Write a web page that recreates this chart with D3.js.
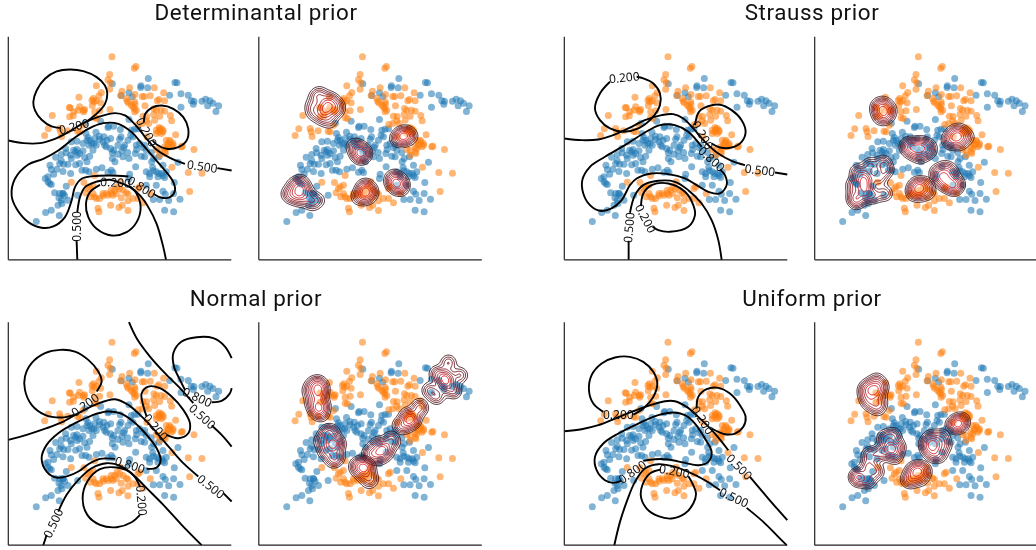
<!DOCTYPE html>
<html><head><meta charset="utf-8">
<script src="https://cdn.jsdelivr.net/npm/d3@7"></script>
<style>html,body{margin:0;padding:0;background:#fff}svg{display:block;filter:blur(0.35px)}</style></head>
<body><svg id="c" width="1036" height="550"></svg>
<script>
const titles = ["Determinantal prior","Strauss prior","Normal prior","Uniform prior"];

const bluePoints = [[446,145],[526,157],[532,158],[424,167],[423,172],[444,173],[338,161],[365,196],[388,188],[398,200],[510,195],[544,191],[566,195],[575,212],[583,213],[581,222],[607,213],[618,207],[631,212],[624,227],[640,219],[657,227],[649,244],[544,231],
[388,268],[303,273],[327,288],[342,288],[362,298],[256,279],[259,310],[289,306],[299,318],[325,292],[395,300],[405,297],[415,296],[393,315],[400,320],[385,330],[364,320],[360,327],[333,325],[322,330],[313,320],[300,328],[285,325],[265,322],[270,330],[276,340],[290,345],[268,345],[283,340],[232,333],[215,335],
[375,345],[372,352],[367,362],[355,372],[342,360],[338,368],[333,355],[320,350],[315,345],[338,385],[346,395],[384,367],[370,380],[388,385],[411,358],[430,352],[420,340],[435,345],[407,370],[425,378],[435,380],[455,367],[462,385],[478,380],[456,395],[490,405],[535,396],[459,412],[461,422],
[232,358],[222,360],[228,365],[198,355],[200,368],[185,373],[168,381],[185,392],[213,375],[233,375],[250,362],[255,382],[270,378],[280,360],[262,395],[240,400],[228,404],[205,402],[192,402],[151,405],[155,418],[172,417],[162,432],[190,424],[213,430],[247,420],[258,420],[268,425],[290,417],[307,413],[325,426],[335,420],[340,427],
[390,432],[388,445],[408,410],[440,425],[450,430],[470,425],[478,430],[487,430],[500,425],[495,442],[475,440],[490,437],[450,440],[440,465],[524,457],[470,465],[137,445],[145,455],[155,463],[150,460],[200,468],
[165,488],[180,490],[190,490],[195,497],[178,503],[185,510],[175,525],[187,520],[234,495],[205,510],[155,540],[138,547],[179,556],[110,574],[461,508],[480,508],[490,483],[497,492],[522,490],[507,511],[541,507],[495,540],[522,545],
[262,330],[310,335],[355,345],[410,345],[440,360],[250,340],[240,370],[215,385],[180,400],[145,440],[190,490]];

const orangePoints = [[337,80],[404,114],[409,109],[330,133],[325,149],[332,158],[330,177],[290,167],[305,187],[298,197],[281,205],[277,210],[283,215],[278,226],[290,212],[303,218],[238,201],[240,230],[212,233],[209,232],[222,245],[235,240],[251,240],[255,238],[252,245],[285,245],[300,242],[331,238],[158,256],[210,260],[221,257],[285,263],[292,265],[146,296],[135,316],[180,295],[183,305],[186,319],[204,302],[234,303],[240,305],[250,285],
[367,183],[363,196],[390,173],[406,193],[428,199],[434,199],[452,197],[464,173],[492,188],[478,208],[473,212],[495,212],[383,213],[386,218],[406,222],[436,227],[404,235],[405,245],[463,235],[470,240],[484,240],[495,243],[512,256],[516,272],[430,258],[441,259],[416,283],[428,280],[440,272],[462,253],[465,270],[480,258],[447,280],[480,298],[490,305],[510,330],[528,314],[505,340],[520,345],[515,350],[548,348],[545,350],[583,358],[495,365],[497,370],[480,375],[470,358],[480,360],[517,411],[566,427],[607,429],[570,484],[442,320],[470,300],[485,295],[500,355],
[215,456],[285,436],[253,457],[258,488],[270,470],[280,465],[265,475],[280,490],[290,505],[300,505],[310,497],[325,495],[335,490],[345,480],[352,470],[362,455],[380,488],[385,492],[365,503],[385,512],[400,505],[415,505],[420,470],[415,475],[430,518],[452,490],[295,534],[298,545],[333,525],[358,532],[368,525],[385,541],[340,495],
[470,310],[478,305],[485,310],[490,300],[478,292],[505,345],[512,335],[520,340],[500,330],[495,350],[335,480],[350,490],[360,475],[370,480],[320,490],[310,490],[272,500],[285,500],[405,215],[400,230],[410,240],[395,225],[380,205]];

// Decision boundaries, read per panel (gaps are where the inline labels sit)
const boundaryDeterminantal = [
 [[183,383],[155,378],[125,358],[105,330],[100,305],[110,270],[135,235],[170,213],[210,207],[250,212],[290,230],[315,255],[322,280],[315,310],[295,335],[262,362]],
 [[432,365],[436,340],[455,322],[485,315],[520,325],[550,350],[565,385],[560,420],[535,440],[500,445],[470,432],[458,420]],
 [[25,420],[70,428],[120,428],[165,415],[205,395],[250,368],[300,348],[345,338],[375,345],[405,372],[440,415],[470,448],[510,472],[555,490]],
 [[652,503],[695,510]],
 [[385,528],[330,525],[280,527],[245,535],[225,560],[215,600],[195,650],[160,678],[125,682],[85,665],[50,625],[35,585],[45,535],[85,492],[130,475],[175,450],[220,415],[265,385],[310,368],[355,370],[395,395],[430,435],[465,475],[495,510],[520,545],[525,570],[510,590],[485,592],[460,580]],
 [[232,778],[230,722]],
 [[232,636],[240,590],[255,560],[285,545],[305,540],[330,538],[355,545],[390,560],[420,585],[445,620],[470,670],[490,740],[498,778]],
 [[390,557],[410,580],[422,620],[410,665],[380,695],[335,705],[290,685],[265,650],[258,610],[270,575],[300,553]]
];
const boundaryNormal = [
 [[695,220],[675,185],[640,160],[590,157],[545,170],[520,205],[522,245],[540,285],[555,315]],
 [[635,352],[665,348],[690,325],[695,310]],
 [[387,112],[410,160],[450,215],[495,265],[540,310],[580,355]],
 [[635,422],[665,450],[695,485]],
 [[222,390],[185,398],[135,390],[95,360],[75,315],[75,275],[95,235],[135,205],[180,195],[225,200],[265,225],[295,260],[305,290],[290,320]],
 [[440,395],[428,355],[425,325],[445,305],[480,310],[515,335],[550,375],[570,415],[565,445],[535,460],[500,450]],
 [[25,465],[80,450],[140,430],[190,410],[235,385],[285,360],[345,343],[385,360],[420,390],[450,420],[480,455],[510,490],[550,535],[595,575]],
 [[670,625],[695,650]],
 [[345,522],[300,522],[265,538],[235,560],[205,573],[170,578],[140,560],[125,520],[140,480],[175,445],[225,415],[275,392],[320,380],[360,385],[400,410],[440,450],[470,490],[482,525],[470,548],[440,552]],
 [[130,781],[140,750]],
 [[175,680],[200,630],[235,585],[275,550],[320,535],[365,545],[405,575],[440,610],[490,660],[545,720],[605,781]],
 [[420,605],[395,565],[350,548],[300,553],[262,590],[248,640],[262,690],[300,720],[350,727],[395,712],[420,690]]
];
const boundaryStrauss = [
 [[165,155],[135,190],[120,235],[135,270],[165,295],[205,305],[250,295],[290,265],[315,225],[315,190],[295,160],[265,145],[245,140]],
 [[420,285],[432,245],[460,228],[495,224],[530,240],[560,270],[572,305],[560,335],[530,352],[495,352],[470,340]],
 [[28,325],[80,330],[130,328],[175,315],[220,295],[270,270],[320,255],[355,252],[385,265],[415,295],[450,335],[490,370],[530,392],[570,405]],
 [[660,427],[697,433]],
 [[440,350],[400,305],[360,285],[315,285],[265,310],[210,345],[150,380],[105,410],[82,450],[85,490],[105,525],[135,542],[170,535],[200,510],[225,465],[245,445],[290,430],[340,432],[390,445],[425,465],[460,485],[495,490],[515,465],[510,435],[495,418]],
 [[221,689],[221,632]],
 [[225,548],[240,495],[265,465],[310,452],[360,455],[400,480],[440,520],[470,570],[490,630],[500,689]],
 [[258,528],[265,490],[290,465],[340,460],[390,485],[415,525],[420,555],[400,590],[345,605],[310,600],[293,590]]
];
const boundaryUniform = [
 [[145,290],[115,265],[102,225],[110,180],[140,145],[180,127],[225,125],[265,140],[295,170],[307,205],[295,245],[265,280],[235,298]],
 [[425,280],[430,245],[455,222],[490,218],[525,235],[555,270],[572,305],[565,335],[540,355],[510,357],[470,340]],
 [[28,348],[80,342],[130,330],[180,310],[230,290],[280,272],[330,258],[360,258],[395,275],[430,305],[480,355],[520,405]],
 [[585,485],[640,550],[697,615]],
 [[265,437],[300,432],[340,433],[390,443],[430,450],[460,440],[470,410],[450,370],[420,325],[390,300],[355,292],[310,300],[250,325],[190,355],[145,385],[120,425],[125,465],[150,495],[175,503],[198,497]],
 [[178,690],[195,620],[215,560],[240,500],[270,460],[310,447],[360,455],[400,470],[450,495],[495,525]],
 [[575,578],[625,620],[670,665],[695,690]],
 [[318,463],[285,475],[262,510],[258,545],[275,580],[310,603],[350,610],[390,595],[415,565],[423,535],[410,500],[400,483]]
];

const labelsDeterminantal = [["0.200",222,378,-14],["0.200",440,395,62],["0.500",607,498,8],["0.200",347,546,3],["0.800",425,560,32],["0.500",230,678,-90]];
const labelsNormal = [["0.200",255,360,-35],["0.800",592,337,25],["0.500",607,395,42],["0.200",467,427,50],["0.500",633,605,38],["0.800",390,540,18],["0.500",160,715,-65],["0.200",425,647,85]];
const labelsStrauss = [["0.200",208,142,-6],["0.200",443,315,60],["0.800",470,387,42],["0.500",615,420,7],["0.500",222,592,-85],["0.200",272,565,62]];
const labelsUniform = [["0.200",190,297,0],["0.200",443,315,58],["0.500",553,455,45],["0.800",232,470,-35],["0.200",358,468,10],["0.500",537,547,25]];

// Posterior modes of the inducing points: each blob is a list of read-off density centres [x, y, weight]
const blobsDeterminantal = [
 [[185,228],[197,200],[210,190],[238,205],[255,218],[265,235],[252,245],[240,275],[215,265],[190,250],[225,232,1.7],[222,245,1.2],[232,222,1]],
 [[305,347],[320,345],[340,360],[345,372],[335,382],[318,370],[330,365,1.7],[330,378,1]],
 [[440,325],[455,310],[470,310],[485,318],[465,325],[445,328],[462,318,1.7]],
 [[113,490],[130,465],[152,453],[165,475],[178,500],[205,510],[185,522],[150,510],[125,500],[148,488,2],[147,470,1]],
 [[322,500],[338,470],[352,468],[365,485],[355,500],[338,503],[345,485,1.7]],
 [[422,452],[430,438],[445,447],[458,460],[455,478],[437,470],[437,462,1.7]]
];
const blobsNormal = [
 [[177,228],[188,208],[205,202],[215,218],[220,270],[215,298],[198,288],[185,262],[205,240,1.5],[205,275,1.5],[207,225,1]],
 [[230,352],[245,352],[265,385],[262,425],[248,435],[225,410],[213,378],[247,388,2]],
 [[360,412],[380,385],[422,368],[430,382],[408,415],[385,430],[360,420],[400,400,2],[385,412,1]],
 [[318,450],[335,442],[355,455],[365,490],[355,500],[338,478],[322,462],[345,458,2]],
 [[447,330],[470,298],[508,272],[510,282],[490,315],[462,335],[480,315,2]],
 [[538,225],[560,175],[595,142],[630,180],[612,228],[560,245],[585,190,2],[590,210,1]]
];
const blobsStrauss = [
 [[217,238],[222,224],[240,222],[255,240],[245,262],[225,263],[236,245,1.7]],
 [[305,350],[315,343],[350,340],[372,350],[370,365],[345,380],[320,365],[340,355,1.7]],
 [[432,328],[445,308],[465,302],[488,320],[465,340],[438,335],[460,320,1.7]],
 [[145,465],[157,425],[195,405],[235,398],[243,420],[222,445],[240,490],[205,497],[155,515],[148,500],[178,445,1.7],[178,470,1.7],[180,495,1]],
 [[325,480],[335,462],[365,462],[372,485],[350,492],[328,492],[345,470,1.7]],
 [[395,425],[420,413],[440,425],[458,460],[448,475],[420,462],[400,445],[418,440,1.5],[440,462,1.5]]
];
const blobsUniform = [
 [[180,225],[192,212],[215,195],[230,215],[225,260],[218,280],[195,265],[185,248],[210,228,2]],
 [[157,483],[192,418],[238,368],[265,360],[280,395],[270,425],[215,470],[190,498],[160,490],[255,400,2],[225,415,1.2],[190,455,1.2]],
 [[363,385],[378,365],[412,362],[420,390],[405,420],[385,420],[370,405],[388,388,2]],
 [[308,492],[322,465],[345,457],[360,468],[348,492],[318,497],[335,470,1.7]],
 [[440,330],[455,322],[472,312],[470,325],[455,332],[460,327,1.4]]
];
const ringLevels = [0.14,0.22,0.3,0.38,0.48,0.6,0.72,0.86];

const svg = d3.select("#c");
const W = 223;
const blue = "#1f77b4", orange = "#ff7f0e";
const ringColor = d3.scaleLinear().domain([0.14,0.3,0.6,0.86]).range(["#3a1015","#701520","#a81822","#dc1c24"]);

function panel(ox, oy, domX, domY, draw) {
  const g = svg.append("g");
  const sx = d3.scaleLinear().domain([26,695]).range([ox,ox+W]);
  const sy = d3.scaleLinear().domain([689,20]).range([oy+W,oy]);
  const x = d3.scaleLinear().domain(domX).range([ox,ox+W]);
  const y = d3.scaleLinear().domain(domY).range([oy+W,oy]);
  [[bluePoints,blue],[orangePoints,orange]].forEach(([pts,c])=>{
    g.append("g").selectAll("circle").data(pts).join("circle")
      .attr("cx",d=>sx(d[0])).attr("cy",d=>sy(d[1])).attr("r",3.5)
      .attr("fill",c).attr("fill-opacity",0.56);
  });
  draw(g,x,y);
  g.append("line").attr("x1",ox).attr("x2",ox).attr("y1",oy).attr("y2",oy+W).attr("stroke","#222").attr("stroke-width",1.2);
  g.append("line").attr("x1",ox).attr("x2",ox+W).attr("y1",oy+W).attr("y2",oy+W).attr("stroke","#222").attr("stroke-width",1.2);
}
function boundaryPanel(segments, labels) {
  return (g,x,y)=>{
    const line = d3.line().x(d=>x(d[0])).y(d=>y(d[1])).curve(d3.curveCatmullRom.alpha(0.5));
    g.append("g").selectAll("path").data(segments).join("path")
      .attr("d",line).attr("fill","none").attr("stroke","#000").attr("stroke-width",1.9);
    g.append("g").selectAll("text").data(labels).join("text")
      .attr("transform",d=>`translate(${x(d[1])},${y(d[2])}) rotate(${d[3]})`)
      .attr("text-anchor","middle").attr("dy","0.36em")
      .attr("font-family","'Noto Sans',sans-serif").attr("font-size",12).attr("fill","#111")
      .text(d=>d[0]);
  };
}
function densityPanel(blobs) {
  return (g,x,y)=>{
    const n = 224, step = 3, sigma = 16;
    const x0 = x.domain()[0], y0 = y.domain()[1];
    blobs.forEach(blob=>{
      const v = new Float64Array(n*n);
      for (let j=0;j<n;j++) for (let i=0;i<n;i++){
        let s=0;
        for (const k of blob){
          const dx=x0+i*step-k[0], dy=y0+j*step-k[1];
          s+=(k[2]||1)*Math.exp(-(dx*dx+dy*dy)/(2*sigma*sigma));
        }
        v[j*n+i]=s;
      }
      const mx=d3.max(v);
      const cs=d3.contours().size([n,n]).thresholds(ringLevels.map(l=>l*mx))(v);
      const proj=d3.geoTransform({point(a,b){this.stream.point(x(x0+(a-0.5)*step),y(y0+(b-0.5)*step));}});
      const path=d3.geoPath(proj);
      g.append("g").selectAll("path").data(cs).join("path")
        .attr("d",path)
        .attr("fill",(d,i)=>i===cs.length-1?"#fff":"none").attr("fill-opacity",0.4)
        .attr("stroke",(d,i)=>ringColor(ringLevels[i])).attr("stroke-width",0.95).attr("stroke-opacity",0.95);
    });
  };
}
panel(8.3,36.8,[25,694],[778,109],boundaryPanel(boundaryDeterminantal,labelsDeterminantal));
panel(258.8,36.8,[26,695],[689,20],densityPanel(blobsDeterminantal));
panel(564.3,36.8,[28,697],[689,20],boundaryPanel(boundaryStrauss,labelsStrauss));
panel(814.7,36.8,[29,698],[689,20],densityPanel(blobsStrauss));
panel(8.3,322.2,[25,694],[781,112],boundaryPanel(boundaryNormal,labelsNormal));
panel(258.8,322.2,[26,695],[690,21],densityPanel(blobsNormal));
panel(564.3,322.2,[28,697],[690,21],boundaryPanel(boundaryUniform,labelsUniform));
panel(814.7,322.2,[29,698],[690,21],densityPanel(blobsUniform));

[[256,20,0],[812,20,1],[256,306,2],[812,306,3]].forEach(([cx,by,i])=>{
  svg.append("text").attr("x",cx).attr("y",by).attr("text-anchor","middle")
    .attr("font-family","Roboto,sans-serif").attr("font-size",22.4).attr("letter-spacing",0.6).attr("fill","#111").text(titles[i]);
});
</script></body></html>
